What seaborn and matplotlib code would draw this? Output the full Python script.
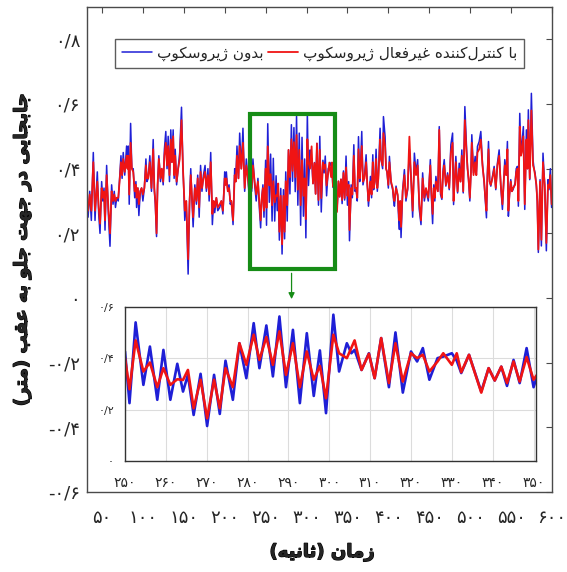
import numpy as np
import pandas as pd
import matplotlib
matplotlib.use("Agg")
import matplotlib.pyplot as plt
import matplotlib.patheffects as pe
import seaborn as sns
from matplotlib.patches import Rectangle
from matplotlib.lines import Line2D

# ---------------- data ----------------
time_s = [
    31.7, 33.0, 35.0, 37.0, 39.4, 41.5, 43.0, 44.3, 46.0, 47.6, 49.6, 51.0, 52.5, 53.7, 55.7, 57.8, 59.8,
    61.8, 63.5, 65.0, 66.5, 68.0, 69.9, 71.5, 73.2, 74.6, 76.0, 77.8, 80.1, 81.2, 82.1, 83.3, 85.0, 86.5,
    88.2, 90.0, 91.5, 92.3, 93.8, 95.1, 96.8, 98.4, 100.0, 101.8, 103.7, 105.0, 106.5, 108.5, 110.5, 112.6,
    114.0, 115.2, 116.7, 118.0, 119.5, 121.5, 123.0, 124.8, 126.3, 128.0, 129.5, 130.9, 132.5, 134.1, 135.5,
    137.0, 138.2, 139.5, 141.2, 143.1, 145.0, 147.2, 149.0, 150.0, 151.2, 153.0, 155.3, 157.0, 158.5, 160.0,
    161.4, 163.5, 165.4, 167.0, 168.8, 170.5, 172.2, 174.0,
    176.0, 177.6, 179.5, 181.0, 182.9, 184.9, 186.5, 187.8, 189.8, 191.5, 193.9, 195.9, 197.8, 200.0, 201.0,
    202.0, 203.8, 205.3, 206.8, 208.1, 210.2, 212.2, 213.5, 215.0, 216.8, 218.3, 220.3, 222.3, 224.4, 226.4,
    228.4, 230.0, 231.5, 233.0, 234.5, 236.6, 238.5, 240.6, 242.3, 243.9, 245.3, 246.7, 248.0,
    250.0, 251.1, 252.6, 254.5, 256.1, 257.9, 259.4, 261.1, 262.8, 264.2, 265.4, 266.8, 268.5, 270.1, 271.8,
    273.2, 274.6, 276.4, 278.0, 279.7, 281.5, 282.9, 284.6, 286.2, 287.8, 289.4, 291.1, 292.8, 294.5, 296.2,
    297.7, 299.2, 301.0, 302.4, 304.3, 305.4, 306.2, 307.9, 309.7, 311.1, 312.7, 314.6, 316.2, 318.0, 320.0,
    321.5, 322.9, 324.5, 326.5, 327.9, 330.0, 331.2, 332.3, 334.2, 337.2, 339.0, 340.5, 342.1, 343.5, 345.1,
    346.6, 348.3, 350.0,
    351.5, 352.5, 354.5, 356.0, 357.8, 359.2, 360.6, 362.0, 363.5, 365.0, 365.9, 367.5, 369.0, 370.8, 372.8,
    374.3, 375.7, 377.0, 378.1, 379.5, 381.0, 382.0, 383.5, 385.0, 386.5, 387.8, 389.9, 391.0, 393.0, 394.0,
    396.0, 397.2, 398.4, 400.0, 401.3, 403.3, 405.3, 406.5, 407.4, 409.4, 411.4, 412.5, 413.5, 414.5, 415.5,
    417.5, 419.6, 421.5, 423.6, 425.7, 427.7, 429.7, 431.8, 433.8, 435.8, 437.8, 439.9, 441.9, 444.0, 446.0,
    448.8, 451.3, 452.5, 454.1,
    455.5, 456.8, 458.1, 460.5, 462.2, 463.8, 465.4, 467.0, 468.3, 470.3, 472.4, 474.4, 476.4, 478.5, 479.7,
    481.0, 482.5, 484.6, 486.6, 488.2, 489.8, 491.5, 493.5, 495.5, 496.8, 498.0, 499.6, 501.0, 502.0, 504.1,
    506.1, 507.5, 508.9, 511.0, 513.0, 515.0, 517.1, 518.5, 519.9, 521.0, 522.4, 523.8, 525.2, 527.2, 529.3,
    531.3, 533.3, 535.4, 537.4, 539.4, 541.0, 542.3, 544.0, 545.5, 546.7, 548.0, 549.6, 551.0, 552.4, 554.9,
    556.3, 557.7, 558.9, 560.6, 562.0, 563.0, 565.0, 566.7, 568.7, 570.0, 571.1, 572.8, 574.8, 576.8, 578.0,
    579.3, 580.9, 582.0, 583.3, 585.4, 587.0, 589.0, 591.1, 593.1, 595.1, 596.3, 598.0, 599.5,
]

no_gyro = [
    0.30, 0.25, 0.33, 0.24, 0.45, 0.24, 0.33, 0.39, 0.26, 0.20, 0.36, 0.30, 0.34, 0.21, 0.41, 0.26, 0.16,
    0.35, 0.29, 0.33, 0.28, 0.31, 0.30, 0.37, 0.44, 0.37, 0.45, 0.38, 0.47, 0.40, 0.47, 0.29, 0.54, 0.40,
    0.40, 0.31, 0.36, 0.28, 0.34, 0.255, 0.33, 0.34, 0.30, 0.34, 0.43, 0.36, 0.37, 0.44, 0.33, 0.49,
    0.33, 0.29, 0.19, 0.35, 0.44, 0.36, 0.40, 0.35, 0.46, 0.515, 0.40, 0.50, 0.36, 0.52, 0.42,
    0.52, 0.37, 0.46, 0.35, 0.40, 0.45, 0.59, 0.40, 0.335, 0.24, 0.30, 0.074, 0.30, 0.40, 0.30,
    0.22, 0.35, 0.29, 0.38, 0.25, 0.41, 0.33, 0.38,
    0.41, 0.33, 0.40, 0.30, 0.45, 0.227, 0.30, 0.264, 0.31, 0.27, 0.28, 0.30, 0.26, 0.39, 0.35,
    0.39, 0.33, 0.35, 0.29, 0.30, 0.227, 0.40, 0.36, 0.47, 0.37, 0.51, 0.40, 0.525, 0.33, 0.43,
    0.37, 0.31, 0.40, 0.33, 0.43, 0.35, 0.30, 0.37, 0.28, 0.217, 0.31, 0.35, 0.25,
    0.426, 0.225, 0.539, 0.296, 0.445, 0.238, 0.432, 0.238, 0.378, 0.270, 0.335, 0.179, 0.339, 0.136, 0.335,
    0.183, 0.390, 0.238, 0.458, 0.322, 0.536, 0.361, 0.527, 0.329, 0.562, 0.287, 0.510, 0.225, 0.497, 0.253,
    0.430, 0.186, 0.569, 0.348, 0.458, 0.419, 0.432, 0.354, 0.419, 0.322, 0.478, 0.287, 0.500, 0.266, 0.426,
    0.387, 0.439, 0.316, 0.400, 0.406, 0.419, 0.390, 0.342, 0.413, 0.270, 0.361, 0.313, 0.367, 0.292, 0.393,
    0.303, 0.439, 0.287,
    0.36, 0.177, 0.35, 0.31, 0.474, 0.33, 0.335, 0.30, 0.499, 0.36, 0.40, 0.515, 0.35, 0.376, 0.443,
    0.35, 0.284, 0.33, 0.376, 0.31, 0.443, 0.335, 0.36, 0.46, 0.33, 0.38, 0.525, 0.43, 0.40, 0.561,
    0.499, 0.40, 0.39, 0.34, 0.438, 0.356, 0.335, 0.30, 0.284, 0.346, 0.315, 0.25, 0.212, 0.30, 0.187,
    0.335, 0.397, 0.30, 0.335, 0.46, 0.376, 0.25, 0.448, 0.387, 0.428, 0.274, 0.227, 0.387, 0.30, 0.335,
    0.30, 0.428, 0.32, 0.23,
    0.35, 0.30, 0.376, 0.33, 0.53, 0.32, 0.305, 0.40, 0.428, 0.346, 0.387, 0.335, 0.474, 0.51, 0.289,
    0.36, 0.438, 0.325, 0.417, 0.36, 0.458, 0.325, 0.592, 0.469, 0.40, 0.366, 0.300, 0.40, 0.505, 0.387,
    0.438, 0.38, 0.469, 0.484, 0.515, 0.417, 0.356, 0.30, 0.248, 0.38, 0.484, 0.36, 0.346, 0.376, 0.407,
    0.335, 0.417, 0.458, 0.346, 0.274, 0.36, 0.428, 0.38, 0.484, 0.253, 0.32, 0.366, 0.33, 0.335, 0.356,
    0.40, 0.407, 0.284, 0.571, 0.45, 0.469, 0.530, 0.274, 0.520, 0.40, 0.582, 0.366, 0.633, 0.428, 0.40,
    0.387, 0.346, 0.30, 0.141, 0.366, 0.161, 0.448, 0.346, 0.146, 0.366, 0.335, 0.40, 0.28,
]

passive_gyro = [
    0.30, 0.27, 0.32, 0.27, 0.42, 0.27, 0.32, 0.36, 0.28, 0.23, 0.34, 0.31, 0.33, 0.24, 0.38, 0.28, 0.20,
    0.33, 0.30, 0.32, 0.30, 0.31, 0.31, 0.36, 0.42, 0.38, 0.43, 0.39, 0.44, 0.40, 0.44, 0.32, 0.48, 0.40,
    0.39, 0.33, 0.35, 0.31, 0.34, 0.29, 0.33, 0.34, 0.32, 0.34, 0.41, 0.37, 0.37, 0.42, 0.34, 0.46,
    0.34, 0.30, 0.20, 0.35, 0.43, 0.37, 0.40, 0.36, 0.44, 0.48, 0.41, 0.47, 0.38, 0.49, 0.42,
    0.50, 0.38, 0.44, 0.36, 0.40, 0.43, 0.55, 0.40, 0.34, 0.27, 0.30, 0.12, 0.29, 0.38, 0.31,
    0.25, 0.34, 0.30, 0.37, 0.28, 0.39, 0.34, 0.37,
    0.39, 0.34, 0.38, 0.32, 0.42, 0.26, 0.30, 0.28, 0.31, 0.28, 0.29, 0.30, 0.27, 0.37, 0.35,
    0.37, 0.33, 0.34, 0.30, 0.30, 0.24, 0.38, 0.36, 0.44, 0.37, 0.47, 0.40, 0.48, 0.34, 0.41,
    0.37, 0.33, 0.39, 0.34, 0.41, 0.36, 0.32, 0.36, 0.30, 0.24, 0.31, 0.34, 0.27,
    0.400, 0.279, 0.469, 0.348, 0.383, 0.287, 0.361, 0.296, 0.318, 0.315, 0.354, 0.205, 0.316, 0.166, 0.316,
    0.205, 0.361, 0.287, 0.458, 0.374, 0.491, 0.393, 0.482, 0.374, 0.504, 0.335, 0.458, 0.287, 0.426, 0.316,
    0.370, 0.244, 0.491, 0.419, 0.400, 0.440, 0.469, 0.354, 0.417, 0.322, 0.478, 0.303, 0.458, 0.309, 0.419,
    0.400, 0.413, 0.348, 0.387, 0.419, 0.374, 0.419, 0.345, 0.413, 0.266, 0.361, 0.313, 0.367, 0.303, 0.387,
    0.309, 0.404, 0.316,
    0.35, 0.21, 0.34, 0.32, 0.44, 0.34, 0.34, 0.31, 0.46, 0.37, 0.40, 0.47, 0.36, 0.37, 0.42,
    0.35, 0.30, 0.33, 0.36, 0.32, 0.42, 0.34, 0.36, 0.43, 0.34, 0.37, 0.49, 0.43, 0.41, 0.51,
    0.47, 0.40, 0.39, 0.35, 0.42, 0.36, 0.34, 0.31, 0.30, 0.34, 0.32, 0.27, 0.24, 0.30, 0.22,
    0.33, 0.38, 0.31, 0.34, 0.499, 0.37, 0.27, 0.42, 0.38, 0.41, 0.29, 0.24, 0.37, 0.31, 0.34,
    0.31, 0.41, 0.33, 0.26,
    0.34, 0.31, 0.36, 0.33, 0.52, 0.33, 0.31, 0.39, 0.41, 0.35, 0.38, 0.34, 0.45, 0.48, 0.30,
    0.36, 0.42, 0.33, 0.40, 0.36, 0.44, 0.33, 0.55, 0.45, 0.40, 0.37, 0.31, 0.39, 0.48, 0.38,
    0.42, 0.38, 0.45, 0.46, 0.49, 0.41, 0.36, 0.31, 0.27, 0.37, 0.46, 0.36, 0.35, 0.37, 0.40,
    0.34, 0.41, 0.44, 0.35, 0.29, 0.36, 0.41, 0.38, 0.46, 0.27, 0.32, 0.36, 0.33, 0.34, 0.35,
    0.39, 0.40, 0.30, 0.53, 0.44, 0.45, 0.50, 0.29, 0.49, 0.40, 0.55, 0.37, 0.58, 0.41, 0.40,
    0.38, 0.35, 0.30, 0.15, 0.36, 0.18, 0.42, 0.35, 0.17, 0.35, 0.34, 0.38, 0.29,
]

x_ticks = [50, 100, 150, 200, 250, 300, 350, 400, 450, 500, 550, 600]
x_tick_labels = ['۵۰', '۱۰۰', '۱۵۰', '۲۰۰', '۲۵۰', '۳۰۰', '۳۵۰', '۴۰۰', '۴۵۰', '۵۰۰', '۵۵۰', '۶۰۰']
y_ticks = [-0.6, -0.4, -0.2, 0.0, 0.2, 0.4, 0.6, 0.8]
y_tick_labels = ['-۰/۶', '-۰/۴', '-۰/۲', '۰', '۰/۲', '۰/۴', '۰/۶', '۰/۸']
inset_x_ticks = [250, 260, 270, 280, 290, 300, 310, 320, 330, 340, 350]
inset_x_tick_labels = ['۲۵۰', '۲۶۰', '۲۷۰', '۲۸۰', '۲۹۰', '۳۰۰', '۳۱۰', '۳۲۰', '۳۳۰', '۳۴۰', '۳۵۰']
inset_y_ticks = [0.0, 0.2, 0.4, 0.6]
inset_y_tick_labels = ['۰', '۰/۲', '۰/۴', '۰/۶']

label_no_gyro = 'بدون ژیروسکوپ'
label_passive = 'با کنترل‌کننده غیرفعال ژیروسکوپ'
x_label = 'زمان (ثانیه)'
y_label = 'جابجایی در جهت جلو به عقب (متر)'

# ---------------- minimal Arabic-script shaping for display ----------------
FORMS = {
    'ا': ('\uFE8D', '\uFE8E', None, None),
    'ب': ('\uFE8F', '\uFE90', '\uFE91', '\uFE92'),
    'پ': ('\uFB56', '\uFB57', '\uFB58', '\uFB59'),
    'ت': ('\uFE95', '\uFE96', '\uFE97', '\uFE98'),
    'ث': ('\uFE99', '\uFE9A', '\uFE9B', '\uFE9C'),
    'ج': ('\uFE9D', '\uFE9E', '\uFE9F', '\uFEA0'),
    'د': ('\uFEA9', '\uFEAA', None, None),
    'ر': ('\uFEAD', '\uFEAE', None, None),
    'ز': ('\uFEAF', '\uFEB0', None, None),
    'ژ': ('\uFB8A', '\uFB8B', None, None),
    'س': ('\uFEB1', '\uFEB2', '\uFEB3', '\uFEB4'),
    'ع': ('\uFEC9', '\uFECA', '\uFECB', '\uFECC'),
    'غ': ('\uFECD', '\uFECE', '\uFECF', '\uFED0'),
    'ف': ('\uFED1', '\uFED2', '\uFED3', '\uFED4'),
    'ق': ('\uFED5', '\uFED6', '\uFED7', '\uFED8'),
    'ک': ('\uFB8E', '\uFB8F', '\uFB90', '\uFB91'),
    'ل': ('\uFEDD', '\uFEDE', '\uFEDF', '\uFEE0'),
    'م': ('\uFEE1', '\uFEE2', '\uFEE3', '\uFEE4'),
    'ن': ('\uFEE5', '\uFEE6', '\uFEE7', '\uFEE8'),
    'ه': ('\uFEE9', '\uFEEA', '\uFEEB', '\uFEEC'),
    'و': ('\uFEED', '\uFEEE', None, None),
    'ی': ('\uFBFC', '\uFBFD', '\uFBFE', '\uFBFF'),
}


def shape(s):
    out = []
    for i, c in enumerate(s):
        if c not in FORMS:
            if c != '\u200c':
                out.append(c)
            continue
        prev = s[i - 1] if i > 0 else None
        nxt = s[i + 1] if i + 1 < len(s) else None
        p = prev in FORMS and FORMS[prev][2] is not None
        n = FORMS[c][2] is not None and nxt in FORMS
        iso, fin, ini, med = FORMS[c]
        out.append(med if (p and n) else fin if p else ini if n else iso)
    return ''.join(reversed(out)).translate(str.maketrans('()', ')('))


# ---------------- plot ----------------
sns.set_theme(style='white')
plt.rcParams['font.family'] = ['DejaVu Sans']

df = pd.DataFrame({'t': time_s, 'no_gyro': no_gyro, 'passive': passive_gyro})

BLUE = '#1f1fd6'
RED = '#f01414'
GREEN = '#168c16'
EDGE = '#4a4a4a'
bold_fx = [pe.withStroke(linewidth=0.9, foreground='black')]

fig = plt.figure(figsize=(5.67, 5.72), dpi=100)
ax = fig.add_axes([87 / 567, 1 - 492 / 572, 465 / 567, 485 / 572])

sns.lineplot(data=df, x='t', y='no_gyro', ax=ax, color=BLUE, lw=1.1, estimator=None, sort=False)
sns.lineplot(data=df, x='t', y='passive', ax=ax, color=RED, lw=1.3, estimator=None, sort=False)

ax.set_xlim(31.7, 600)
ax.set_ylim(-0.6, 0.9)
ax.set_xticks(x_ticks)
ax.set_xticklabels(x_tick_labels, fontsize=13)
ax.set_yticks(y_ticks)
ax.set_yticklabels(y_tick_labels, fontsize=13)
ax.set_xlabel('')
ax.set_ylabel('')
ax.tick_params(axis='both', direction='in', top=True, right=True, length=4, width=0.8, color=EDGE)
ax.tick_params(axis='x', pad=12)
ax.tick_params(axis='y', pad=5)
for sp in ax.spines.values():
    sp.set_color(EDGE)
    sp.set_linewidth(1.0)

# zoom box + arrow
ax.add_patch(Rectangle((231, 0.091), 103.7, 0.478, fill=False, ec=GREEN, lw=3.0, zorder=5))
ax.annotate('', xy=(281.7, -0.012), xytext=(281.7, 0.085),
            arrowprops=dict(arrowstyle='-|>', color=GREEN, lw=0.9, mutation_scale=9), zorder=5)

# legend
handles = [Line2D([], [], color=BLUE, lw=1.1), Line2D([], [], color=RED, lw=1.3)]
leg = ax.legend(handles, [shape(label_no_gyro), shape(label_passive)], loc='upper center',
                bbox_to_anchor=(0.5, 0.935), ncol=2, fontsize=11, frameon=True, fancybox=False,
                edgecolor='#333333', handlelength=2.0, handletextpad=0.3, columnspacing=0.3,
                borderpad=0.45, borderaxespad=0)
leg.get_frame().set_linewidth(1.0)

# axis titles
fig.text(22 / 567, 1 - 250 / 572, shape(y_label), rotation=90, ha='center', va='center',
         fontsize=13, fontweight='bold', path_effects=bold_fx)
fig.text(322 / 567, 1 - 552 / 572, shape(x_label), ha='center', va='center',
         fontsize=13, fontweight='bold', path_effects=bold_fx)

# inset
ins = fig.add_axes([125 / 567, 1 - 461 / 572, 410.6 / 567, 154.3 / 572])
sns.lineplot(data=df, x='t', y='no_gyro', ax=ins, color=BLUE, lw=1.9, estimator=None, sort=False)
sns.lineplot(data=df, x='t', y='passive', ax=ins, color=RED, lw=1.9, estimator=None, sort=False)
for ln in ins.get_lines():
    ln.set_solid_joinstyle('round')
ins.set_xlim(250, 350.5)
ins.set_ylim(0, 0.6)
ins.set_xticks(inset_x_ticks)
ins.set_xticklabels(inset_x_tick_labels, fontsize=10)
ins.set_yticks(inset_y_ticks)
ins.set_yticklabels(inset_y_tick_labels, fontsize=8)
ins.set_xlabel('')
ins.set_ylabel('')
ins.grid(True, color='#dcdcdc', lw=0.8)
ins.set_axisbelow(True)
ins.tick_params(axis='both', length=0)
ins.tick_params(axis='x', pad=11)
ins.tick_params(axis='y', pad=8)
for sp in ins.spines.values():
    sp.set_color('#333333')
    sp.set_linewidth(1.0)

fig.savefig('out.png', dpi=100)
